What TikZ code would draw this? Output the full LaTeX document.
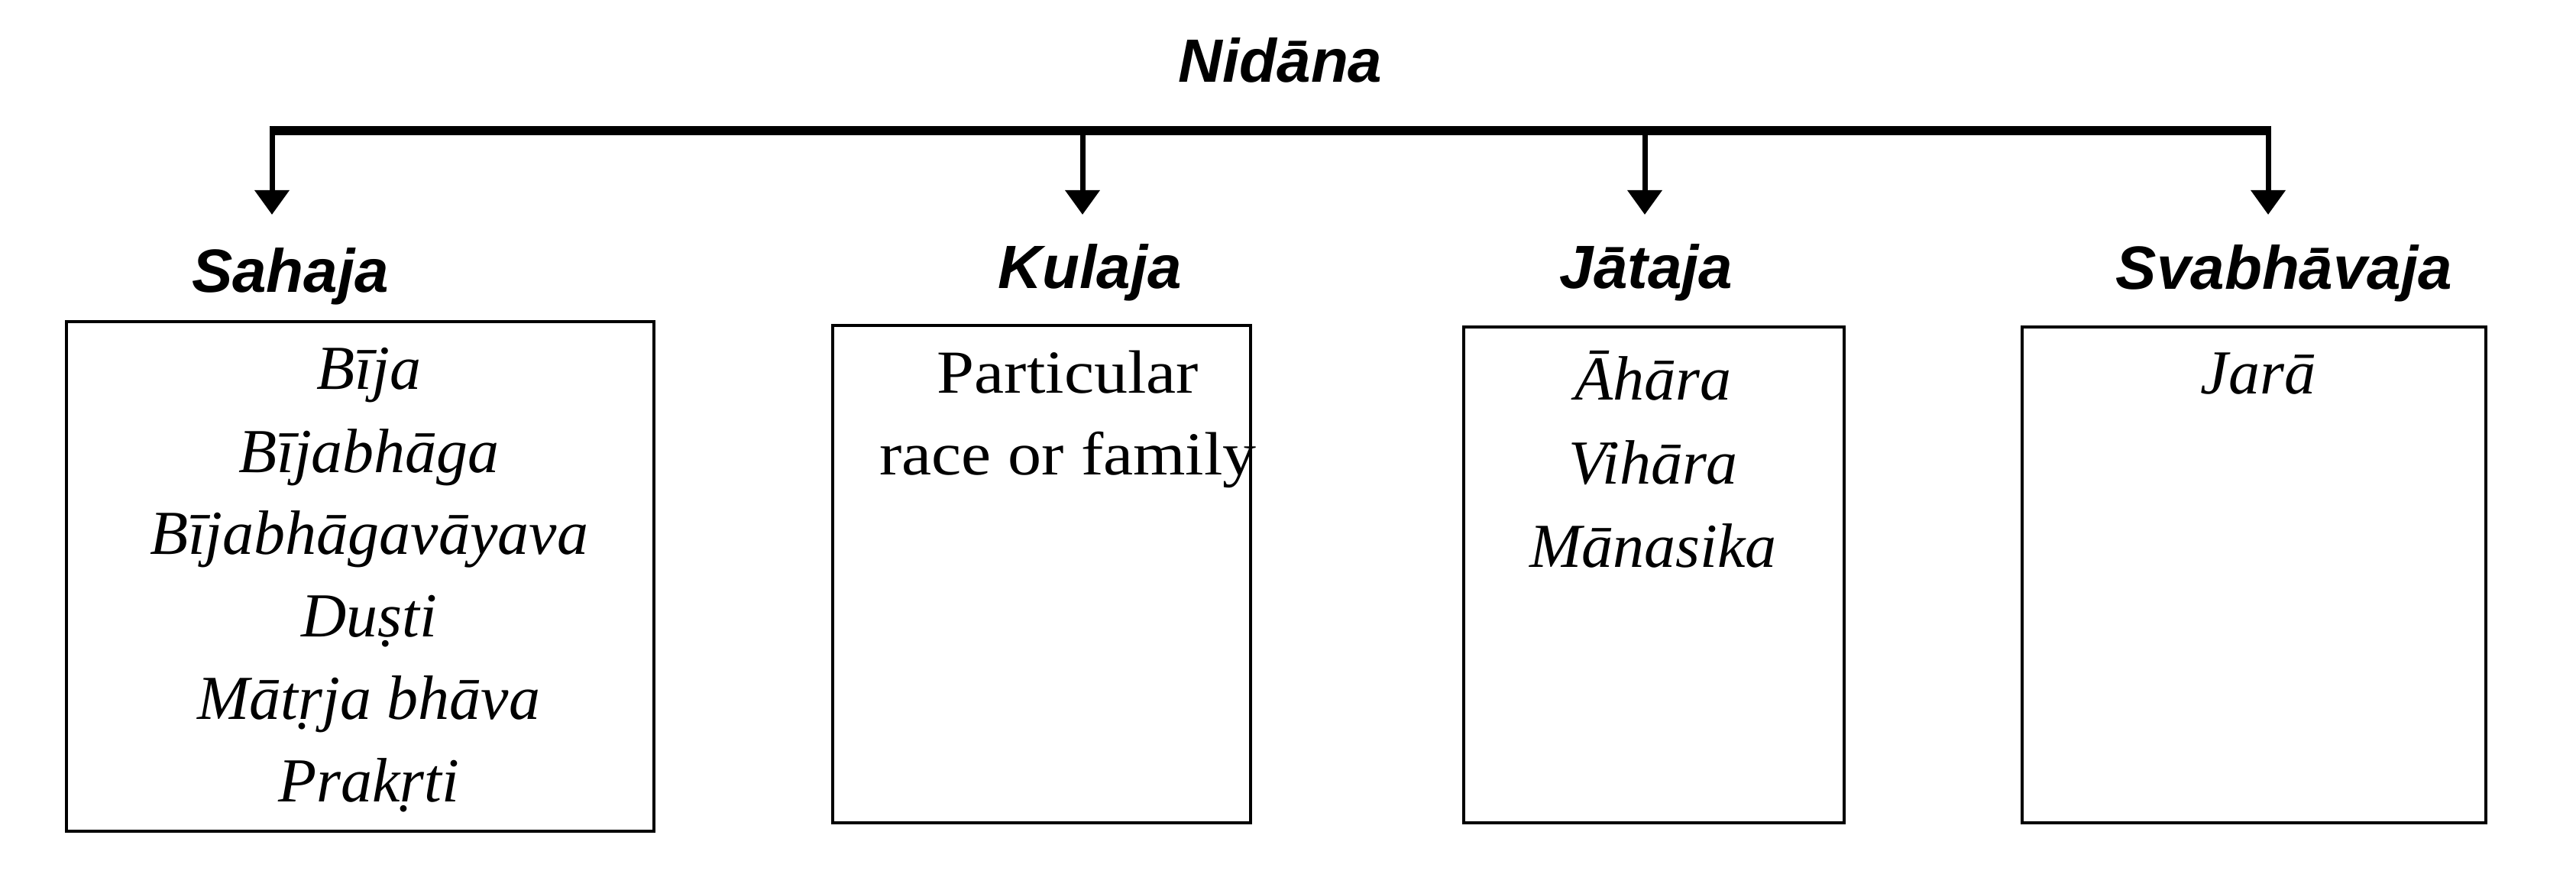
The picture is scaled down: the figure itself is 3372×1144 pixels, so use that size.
\documentclass[tikz,border=0pt]{standalone}
\usepackage{fontspec}
\setmainfont{Liberation Serif}[UprightFeatures={FakeStretch=1.1}, ItalicFeatures={FakeStretch=1.0}]
\newfontfamily\headfont{Liberation Sans}
\usetikzlibrary{arrows.meta}
\tikzset{
  heading/.style={font=\headfont\bfseries\itshape\fontsize{20}{24}\selectfont, inner sep=0pt, anchor=base},
  item/.style={font=\itshape\fontsize{20.5}{24}\selectfont, inner sep=0pt, anchor=base},
  itemup/.style={font=\fontsize{20}{24}\selectfont, inner sep=0pt, anchor=base},
  box/.style={draw=black, line width=1pt, inner sep=0pt},
  barline/.style={line width=3pt, line cap=butt},
  arr/.style={line width=1.75pt, -{Triangle[width=11pt,length=8pt]}},
}
\begin{document}
\begin{tikzpicture}[x=0.25pt,y=-0.25pt]
\useasboundingbox (0,0) rectangle (3372,1144);
% title
\node[heading] (nid) at (1676,108) {Nidāna};
% bar
\coordinate (b1) at (356,171);
\coordinate (b2) at (1417,171);
\coordinate (b3) at (2153,171);
\coordinate (b4) at (2969,171);
\coordinate (t1) at (356,281);
\coordinate (t2) at (1417,281);
\coordinate (t3) at (2153,281);
\coordinate (t4) at (2969,281);
\draw[barline] ([xshift=-0.875pt]b1) -- ([xshift=0.875pt]b4);
\draw[arr] ([yshift=1.5pt]b1) -- (t1);
\draw[arr] (b2) -- (t2);
\draw[arr] (b3) -- (t3);
\draw[arr] ([yshift=1.5pt]b4) -- (t4);
% headings
\node[heading] (sah) at (380,383) {Sahaja};
\node[heading] (kul) at (1427,378) {Kulaja};
\node[heading] (jat) at (2155,378) {Jātaja};
\node[heading] (svb) at (2990,379) {Svabhāvaja};
% boxes
\node[box, minimum width=192.25pt, minimum height=166.75pt] (box1) at (471.5,754.5) {};
\node[box, minimum width=136.75pt, minimum height=162.75pt] (box2) at (1363.5,751.5) {};
\node[box, minimum width=124.5pt, minimum height=162.25pt] (box3) at (2165,752.5) {};
\node[box, minimum width=151.75pt, minimum height=162.25pt] (box4) at (2950.5,752.5) {};
% box 1 contents
\node[item] (s1) at (483,510) {Bīja};
\node[item] (s2) at (483,618) {Bījabhāga};
\node[item] (s3) at (483,725) {Bījabhāgavāyava};
\node[item] (s4) at (483,833) {Duṣti};
\node[item] (s5) at (483,941) {Mātṛja bhāva};
\node[item] (s6) at (483,1049) {Prakṛti};
% box 2 contents
\node[itemup] (k1) at (1398,514) {Particular};
\node[itemup] (k2) at (1398,621) {race or family};
% box 3 contents
\node[item] (j1) at (2164,524) {Āhāra};
\node[item] (j2) at (2164,633) {Vihāra};
\node[item] (j3) at (2164,742) {Mānasika};
% box 4 contents
\node[item] (v1) at (2956,515) {Jarā};
\end{tikzpicture}
\end{document}
